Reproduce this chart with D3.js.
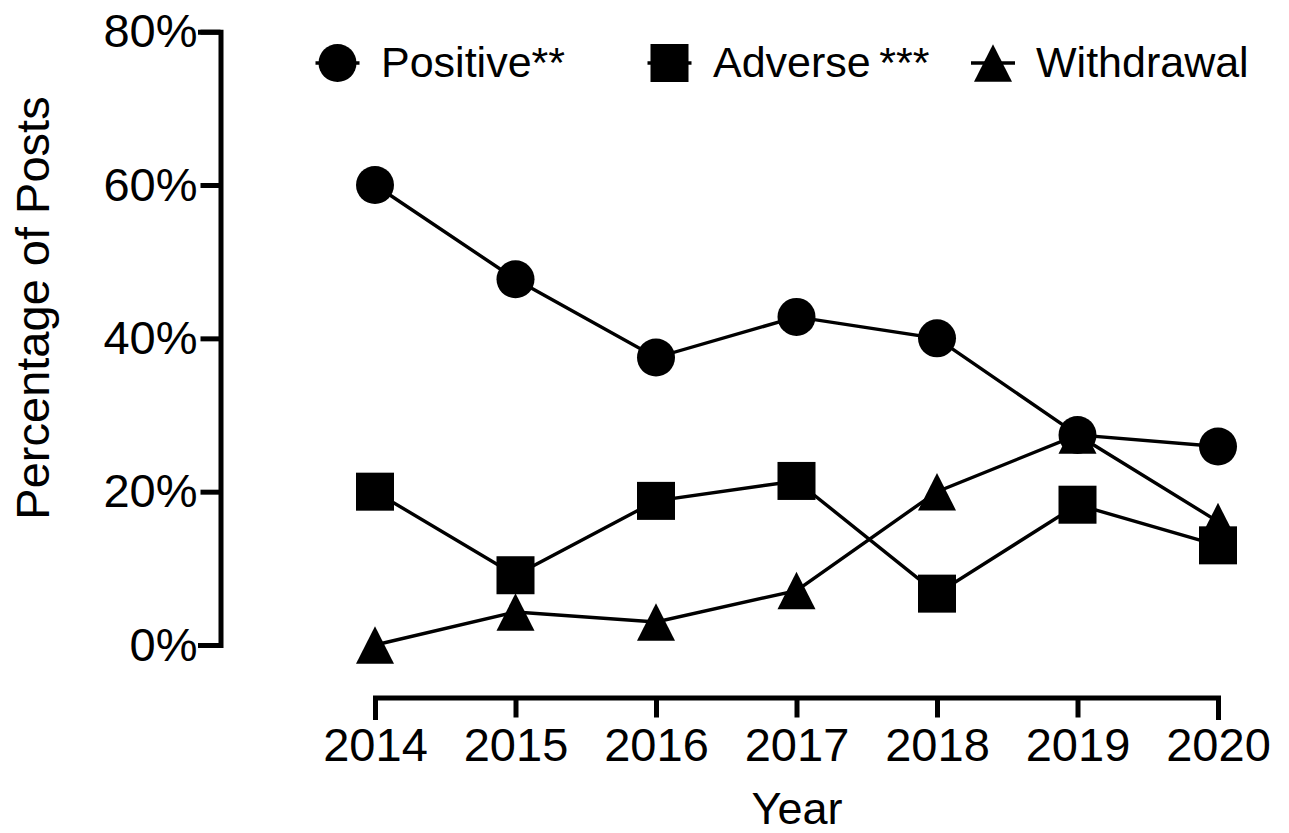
<!DOCTYPE html>
<html>
<head>
<meta charset="utf-8">
<script src="https://cdn.jsdelivr.net/npm/d3@7"></script>
<style>
  html, body { margin: 0; padding: 0; background: #fff; }
  svg { display: block; }
  text { font-family: "Liberation Sans", Arial, Helvetica, sans-serif; fill: #000; }
</style>
</head>
<body>
<svg id="chart" width="1289" height="833"></svg>
<script>
// Share of posts per year, by post category
const years = [2014, 2015, 2016, 2017, 2018, 2019, 2020];
const positive   = [0.600, 0.477, 0.375, 0.428, 0.400, 0.274, 0.259];
const adverse    = [0.200, 0.091, 0.188, 0.214, 0.067, 0.183, 0.130];
const withdrawal = [0.000, 0.043, 0.030, 0.071, 0.200, 0.274, 0.161];
const yTicks = [0, 0.2, 0.4, 0.6, 0.8];
const seriesNames = ["Positive**", "Adverse\u2009***", "Withdrawal"];

const svg = d3.select("#chart");

const x = d3.scalePoint().domain(years).range([375, 1218]);
const y = d3.scaleLinear().domain([0, 0.8]).range([645, 31.7]);

// Axes
const yAxis = d3.axisLeft(y)
  .tickValues(yTicks)
  .tickSize(20)
  .tickSizeOuter(20)
  .tickPadding(3)
  .tickFormat(d3.format(".0%"));

const xAxis = d3.axisBottom(x)
  .tickSize(20)
  .tickSizeOuter(20)
  .tickPadding(10)
  .tickFormat(d3.format("d"));

const gy = svg.append("g").attr("transform", "translate(220.5,0)").call(yAxis);
const gx = svg.append("g").attr("transform", "translate(0,697.5)").call(xAxis);

[gx, gy].forEach(g => {
  g.selectAll(".domain").attr("stroke", "#000").attr("stroke-width", 5)
    .attr("fill", "none").attr("stroke-linecap", "square");
  g.selectAll(".tick line").attr("stroke", "#000").attr("stroke-width", 5);
  g.selectAll(".tick text").attr("font-size", 47)
    .attr("font-family", "'Liberation Sans', Arial, Helvetica, sans-serif").attr("fill", "#000");
});

// Axis titles
svg.append("text")
  .attr("x", 797).attr("y", 824)
  .attr("text-anchor", "middle")
  .attr("font-size", 45)
  .text("Year");

svg.append("text")
  .attr("transform", "translate(49,308) rotate(-90)")
  .attr("text-anchor", "middle")
  .attr("font-size", 47)
  .text("Percentage of Posts");

// Marker shapes
const S = 38;
function drawMarker(g, kind, cx, cy) {
  if (kind === "circle") {
    g.append("circle").attr("cx", cx).attr("cy", cy).attr("r", S / 2).attr("fill", "#000");
  } else if (kind === "square") {
    g.append("rect").attr("x", cx - S / 2).attr("y", cy - S / 2)
      .attr("width", S).attr("height", S).attr("fill", "#000");
  } else {
    const h = 37.5;
    g.append("path")
      .attr("d", `M${cx},${cy - h / 2}L${cx + S / 2},${cy + h / 2}L${cx - S / 2},${cy + h / 2}Z`)
      .attr("fill", "#000");
  }
}

const series = [
  { name: seriesNames[2], values: withdrawal, kind: "triangle" },
  { name: seriesNames[1], values: adverse, kind: "square" },
  { name: seriesNames[0], values: positive, kind: "circle" }
];

const line = d3.line().x((d, i) => x(years[i])).y(d => y(d));

series.forEach(s => {
  const g = svg.append("g");
  g.append("path")
    .attr("d", line(s.values))
    .attr("fill", "none")
    .attr("stroke", "#000")
    .attr("stroke-width", 3.4);
  s.values.forEach((v, i) => drawMarker(g, s.kind, x(years[i]), y(v)));
});

// Legend
const legendItems = [
  { name: seriesNames[0], kind: "circle", cx: 337.5, tx: 381 },
  { name: seriesNames[1], kind: "square", cx: 669.5, tx: 713 },
  { name: seriesNames[2], kind: "triangle", cx: 993, tx: 1036 }
];
const legend = svg.append("g");
legendItems.forEach(it => {
  const cy = 63;
  legend.append("line")
    .attr("x1", it.cx - 22).attr("x2", it.cx + 22)
    .attr("y1", cy).attr("y2", cy)
    .attr("stroke", "#000").attr("stroke-width", 3.4);
  drawMarker(legend, it.kind, it.cx, cy);
  legend.append("text")
    .attr("x", it.tx).attr("y", cy + 14)
    .attr("font-size", 43)
    .text(it.name);
});
</script>
</body>
</html>
